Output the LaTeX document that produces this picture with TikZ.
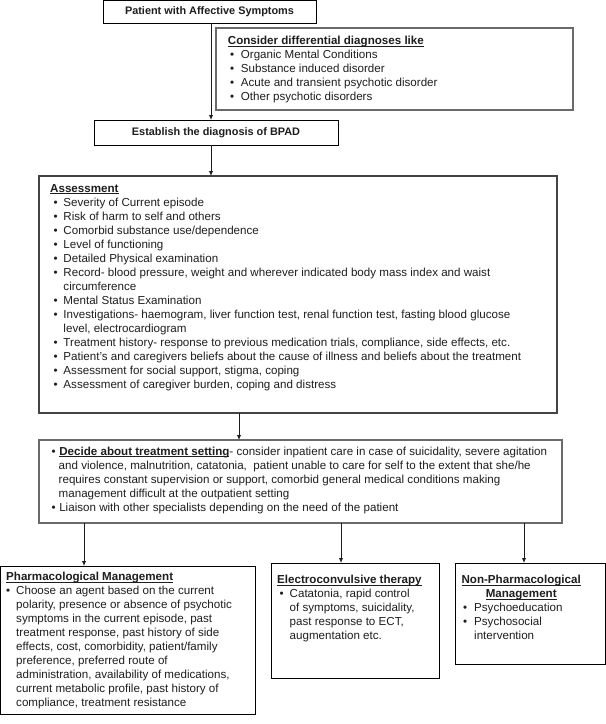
\documentclass[tikz,border=0pt]{standalone}
\usepackage{fontspec}
\setmainfont{Liberation Sans}
\usetikzlibrary{arrows.meta}
\definecolor{txt}{HTML}{1E1E1E}
\definecolor{grayline}{HTML}{6A6A6A}
\definecolor{darkline}{HTML}{444444}
\newcommand{\bul}[1]{\makebox[#1][l]{•}}
\newcommand{\ttl}[1]{\setbox0\hbox{\textbf{#1}}\rlap{\rule[-1.7pt]{\wd0}{0.7pt}}\box0}
\begin{document}
\begin{tikzpicture}[x=1pt,y=-1pt,
  blackbox/.style={draw=black, line width=1pt, inner sep=0pt, outer sep=0pt, anchor=north west},
  graybox/.style={draw=grayline, line width=1.8pt, inner sep=0pt, outer sep=0pt, anchor=north west},
  darkbox/.style={draw=darkline, line width=1.3pt, inner sep=0pt, outer sep=0pt, anchor=north west},
  head/.style={text=txt, font=\fontsize{10.9}{13}\selectfont\bfseries},
  body/.style={anchor=north west, inner sep=0pt, align=left, text=txt, font=\fontsize{11.6}{14}\selectfont},
  arr/.style={-{Latex[length=5pt,width=4.5pt]}, line width=1pt, draw=txt},
]
\useasboundingbox[fill=white] (0,0) rectangle (606,724);

% boxes
\node[blackbox, head, minimum width=213pt, minimum height=22.5pt] (pat) at (103,0.5) {Patient with Affective Symptoms};
\node[graybox, minimum width=357pt, minimum height=82pt] (diff) at (216,28) {};
\node[blackbox, head, minimum width=244pt, minimum height=25pt] (est) at (94,120) {Establish the diagnosis of BPAD};
\node[darkbox, minimum width=518pt, minimum height=237pt] (ass) at (39,176) {};
\node[graybox, minimum width=523pt, minimum height=83pt] (trt) at (39,440) {};
\node[blackbox, minimum width=254.5pt, minimum height=148pt] (pha) at (0.5,566) {};
\node[blackbox, minimum width=168pt, minimum height=115pt] (ect) at (271,563) {};
\node[blackbox, minimum width=150pt, minimum height=101pt] (non) at (455,563) {};

% texts
\node[body] (difft) at (227.7,36.2) {\ttl{Consider differential diagnoses like}\\
\hspace*{2.3pt}\bul{10.7pt}Organic Mental Conditions\\
\hspace*{2.3pt}\bul{10.7pt}Substance induced disorder\\
\hspace*{2.3pt}\bul{10.7pt}Acute and transient psychotic disorder\\
\hspace*{2.3pt}\bul{10.7pt}Other psychotic disorders};

\node[body] (asst) at (50,184.2) {\ttl{Assessment}\\
\hspace*{3.3pt}\bul{10pt}Severity of Current episode\\
\hspace*{3.3pt}\bul{10pt}Risk of harm to self and others\\
\hspace*{3.3pt}\bul{10pt}Comorbid substance use/dependence\\
\hspace*{3.3pt}\bul{10pt}Level of functioning\\
\hspace*{3.3pt}\bul{10pt}Detailed Physical examination\\
\hspace*{3.3pt}\bul{10pt}Record- blood pressure, weight and wherever indicated body mass index and waist\\
\hspace*{13.3pt}circumference\\
\hspace*{3.3pt}\bul{10pt}Mental Status Examination\\
\hspace*{3.3pt}\bul{10pt}Investigations- haemogram, liver function test, renal function test, fasting blood glucose\\
\hspace*{13.3pt}level, electrocardiogram\\
\hspace*{3.3pt}\bul{10pt}Treatment history- response to previous medication trials, compliance, side effects, etc.\\
\hspace*{3.3pt}\bul{10pt}Patient’s and caregivers beliefs about the cause of illness and beliefs about the treatment\\
\hspace*{3.3pt}\bul{10pt}Assessment for social support, stigma, coping\\
\hspace*{3.3pt}\bul{10pt}Assessment of caregiver burden, coping and distress};

\node[body] (trtt) at (51.5,446.5) {\bul{7.6pt}\ttl{Decide about treatment setting}- consider inpatient care in case of suicidality, severe agitation\\
\hspace*{7pt}and violence, malnutrition, catatonia,\ \ patient unable to care for self to the extent that she/he\\
\hspace*{7pt}requires constant supervision or support, comorbid general medical conditions making\\
\hspace*{7pt}management difficult at the outpatient setting\\
\bul{7.6pt}Liaison with other specialists depending on the need of the patient};

\node[body] (phat) at (6,572.2) {\ttl{Pharmacological Management}\\
\bul{10pt}Choose an agent based on the current\\
\hspace*{10pt}polarity, presence or absence of psychotic\\
\hspace*{10pt}symptoms in the current episode, past\\
\hspace*{10pt}treatment response, past history of side\\
\hspace*{10pt}effects, cost, comorbidity, patient/family\\
\hspace*{10pt}preference, preferred route of\\
\hspace*{10pt}administration, availability of medications,\\
\hspace*{10pt}current metabolic profile, past history of\\
\hspace*{10pt}compliance, treatment resistance};

\node[body] (ectt) at (277,574.9) {\ttl{Electroconvulsive therapy}\\
\hspace*{2.5pt}\bul{10pt}Catatonia, rapid control\\
\hspace*{12.5pt}of symptoms, suicidality,\\
\hspace*{12.5pt}past response to ECT,\\
\hspace*{12.5pt}augmentation etc.};

\node[body] (nont) at (461,575.2) {\makebox[120pt][c]{\ttl{Non-Pharmacological}}\\
\makebox[120pt][c]{\ttl{Management}}\\
\hspace*{2pt}\bul{11pt}Psychoeducation\\
\hspace*{2pt}\bul{11pt}Psychosocial\\
\hspace*{13pt}intervention};

% connector columns
\coordinate (c1) at (211,0);
\coordinate (c2) at (239,0);
\coordinate (c3) at (84,0);
\coordinate (c4) at (341,0);
\coordinate (c5) at (524,0);

\draw[arr] (pat.south -| c1) -- (est.north -| c1);
\draw[arr] (est.south -| c1) -- (ass.north -| c1);
\draw[arr] (ass.south -| c2) -- (trt.north -| c2);
\draw[arr] (trt.south -| c3) -- (pha.north -| c3);
\draw[arr] (trt.south -| c4) -- (ect.north -| c4);
\draw[arr] (trt.south -| c5) -- (non.north -| c5);
\end{tikzpicture}
\end{document}
